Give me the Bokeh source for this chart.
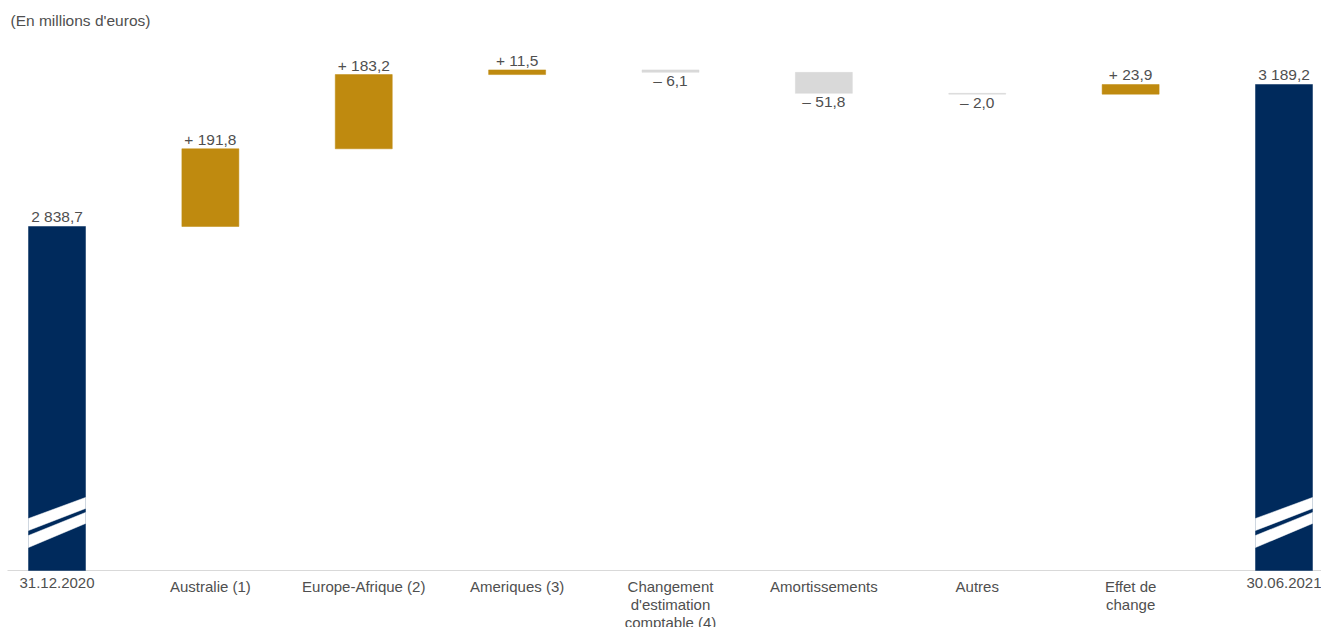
from bokeh.plotting import figure
from bokeh.models import ColumnDataSource, Range1d
from bokeh.core.properties import value
from bokeh.embed import file_html
from bokeh.resources import INLINE

# ---- data ----
categories = ["31.12.2020", "Australie (1)", "Europe-Afrique (2)", "Ameriques (3)",
              "Changement\nd'estimation\ncomptable (4)", "Amortissements", "Autres",
              "Effet de\nchange", "30.06.2021"]
kinds = ["total", "delta", "delta", "delta", "delta", "delta", "delta", "delta", "total"]
amounts = [2838.7, 191.8, 183.2, 11.5, -6.1, -51.8, -2.0, 23.9, 3189.2]
value_labels = ["2 838,7", "+ 191,8", "+ 183,2", "+ 11,5", "\u2013 6,1", "\u2013 51,8",
                "\u2013 2,0", "+ 23,9", "3 189,2"]
axis_title = "(En millions d'euros)"

# ---- layout / style ----
W, H = 1321, 627
Y_BASE = 1989.6            # broken value axis starts here
Y_START, Y_END = 1848.9, 3396.5
X_START, X_END = -0.3684, 8.2445
BAR_W = 0.3716
PX_Y = H / (Y_END - Y_START)   # pixels per unit
PX_X = W / (X_END - X_START)

NAVY = "#002a5c"
GOLD = "#bf8a0f"
GREY = "#d9d9d9"
TXT = "#4f4f4f"
FONT = value("Liberation Sans")

xs = list(range(len(categories)))
bottoms, tops, colors = [], [], []
run = 0.0
for k, a in zip(kinds, amounts):
    if k == "total":
        bottoms.append(Y_BASE); tops.append(a); colors.append(NAVY); run = a
    else:
        b, t = run, run + a
        bottoms.append(min(b, t)); tops.append(max(b, t))
        colors.append(GOLD if a > 0 else GREY)
        run += a

src = ColumnDataSource(dict(x=xs, bottom=bottoms, top=tops, color=colors))

p = figure(width=W, height=H, output_backend="svg", toolbar_location=None,
           x_range=Range1d(X_START, X_END), y_range=Range1d(Y_START, Y_END),
           x_axis_location=None, y_axis_location=None,
           min_border=0, min_border_left=0, min_border_right=0,
           min_border_top=0, min_border_bottom=0)
p.grid.visible = False
p.outline_line_color = None
p.background_fill_color = "white"
p.border_fill_color = "white"

# baseline
p.segment(x0=[X_START + 7 / PX_X], x1=[X_END], y0=[Y_BASE], y1=[Y_BASE],
          line_color=GREY, line_width=1.2)

p.vbar(x="x", bottom="bottom", top="top", width=BAR_W, fill_color="color",
       line_color="color", line_width=0.5, source=src)

# axis break stripes on total bars (pixel offsets above baseline:
# left-bottom, left-top, right-bottom, right-top)
bxs, bys = [], []
for i, k in enumerate(kinds):
    if k != "total":
        continue
    for (lb, lt, rb, rt) in [(40, 52, 62, 73), (23, 35, 47, 58)]:
        bxs.append([i - BAR_W / 2, i + BAR_W / 2, i + BAR_W / 2, i - BAR_W / 2])
        bys.append([Y_BASE + lb / PX_Y, Y_BASE + rb / PX_Y, Y_BASE + rt / PX_Y, Y_BASE + lt / PX_Y])
p.patches(bxs, bys, fill_color="white", line_color="white", line_width=0.5)

# value labels
up_x, up_y, up_t, dn_x, dn_y, dn_t = [], [], [], [], [], []
for i, (k, a) in enumerate(zip(kinds, amounts)):
    if k == "total" or a > 0:
        up_x.append(i); up_y.append(tops[i]); up_t.append(value_labels[i])
    else:
        dn_x.append(i); dn_y.append(bottoms[i]); dn_t.append(value_labels[i])
p.text(x=up_x, y=up_y, text=up_t, text_align="center", text_baseline="bottom",
       y_offset=-1, text_font=FONT, text_font_size="15.5px", text_color=TXT)
p.text(x=dn_x, y=dn_y, text=dn_t, text_align="center", text_baseline="top",
       y_offset=0, text_font=FONT, text_font_size="15.5px", text_color=TXT)

# category labels
p.text(x=xs, y=[Y_BASE] * len(xs), text=categories, text_align="center",
       text_baseline="top", y_offset=8, text_font=FONT, text_font_size="15px",
       text_color=TXT, text_line_height=1.05)

# unit title
p.text(x=[X_START], y=[Y_END], text=[axis_title], x_offset=10, y_offset=11,
       text_align="left", text_baseline="top", text_font=FONT,
       text_font_size="15.5px", text_color=TXT)

open("out.html", "w").write(file_html(p, INLINE))
